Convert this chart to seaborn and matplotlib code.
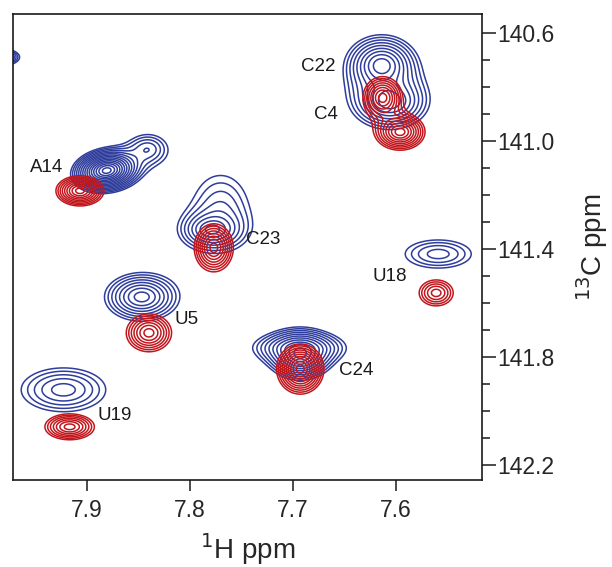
import numpy as np
import matplotlib
matplotlib.use("Agg")
import matplotlib.pyplot as plt
import seaborn as sns

# ===================== peak tables =====================
# centre (1H ppm, 13C ppm), half-width of the lowest contour (ppm), number of contour rings
blue_h = [7.985, 7.881, 7.841, 7.614, 7.606, 7.779, 7.770, 7.847, 7.923, 7.559, 7.693, 7.694]
blue_c = [140.69, 141.110, 141.030, 140.719, 140.856, 141.330, 141.240, 141.578, 141.922, 141.419, 141.795, 141.765]
blue_rh = [0.0194, 0.035, 0.017, 0.035, 0.037, 0.027, 0.024, 0.036, 0.041, 0.032, 0.030, 0.040]
blue_rc = [0.033, 0.085, 0.050, 0.111, 0.100, 0.063, 0.110, 0.089, 0.081, 0.052, 0.090, 0.050]
blue_n = [8, 14, 3, 8, 7, 6, 2, 7, 4, 3, 9, 5]
blue_rho = [0, 0.15, 0, 0, 0, 0, 0, 0, 0, 0, 0, 0]

red_h = [7.907, 7.613, 7.596, 7.777, 7.840, 7.917, 7.561, 7.693]
red_c = [141.185, 140.840, 140.967, 141.396, 141.711, 142.059, 141.563, 141.845]
red_rh = [0.0233, 0.019, 0.024, 0.019, 0.022, 0.024, 0.0165, 0.023]
red_rc = [0.056, 0.078, 0.067, 0.089, 0.070, 0.048, 0.048, 0.093]
red_n = [8, 7, 8, 7, 6, 6, 4, 9]
red_rho = [0, 0, 0, 0, 0, 0, 0, 0]

labels = ['A14', 'C22', 'C4', 'C23', 'U5', 'U19', 'U18', 'C24']
label_h = [7.939, 7.676, 7.668, 7.729, 7.803, 7.873, 7.606, 7.639]
label_c = [141.100, 140.726, 140.904, 141.367, 141.663, 142.017, 141.504, 141.852]

x_ticks = [7.9, 7.8, 7.7, 7.6]
y_ticks = [140.6, 141.0, 141.4, 141.8, 142.2]

blue_color = '#2f3d9c'
red_color = '#c2161d'
level_step = 1.25

# ===================== spectra =====================
hh = np.linspace(7.48, 8.01, 1100)
cc = np.linspace(140.45, 142.35, 1000)
H, C = np.meshgrid(hh, cc)


def spectrum(ph, pc, rh, rc, nring, rho):
    z = np.zeros_like(H)
    for x0, y0, wx, wy, n, r in zip(ph, pc, rh, rc, nring, rho):
        log_amp = (n + 0.5) * np.log(level_step)
        d_out = np.sqrt((1 + log_amp) ** 2 - 1)
        u = (H - x0) / (wx / d_out)
        v = (C - y0) / (wy / d_out)
        d2 = (u**2 - 2 * r * u * v + v**2) / (1 - r**2)
        z += np.exp(log_amp - (np.sqrt(1 + d2) - 1))
    return z


z_blue = spectrum(blue_h, blue_c, blue_rh, blue_rc, blue_n, blue_rho)
z_red = spectrum(red_h, red_c, red_rh, red_rc, red_n, red_rho)

levels = level_step ** np.arange(25)

# ===================== plot =====================
sns.set_theme(style='ticks')
plt.rcParams['font.family'] = ['Liberation Sans', 'DejaVu Sans']

fig = plt.figure(figsize=(6.12, 5.67), dpi=100)
ax = fig.add_axes([13 / 612, 87 / 567, 469 / 612, 466 / 567])

ax.contour(H, C, z_blue, levels=levels, colors=blue_color, linewidths=1.1)
ax.contour(H, C, z_red, levels=levels, colors=red_color, linewidths=1.1)

for txt, x, y in zip(labels, label_h, label_c):
    ax.text(x, y, txt, fontsize=13.5, ha='center', va='center', color='#1a1a1a')

ax.set_xlim(7.972, 7.5165)
ax.set_ylim(142.256, 140.53)

ax.set_xticks(x_ticks)
ax.set_xticklabels([f'{t:.1f}' for t in x_ticks])
ax.set_yticks(y_ticks)
ax.set_yticklabels([f'{t:.1f}' for t in y_ticks])
ax.set_yticks(np.arange(140.6, 142.25, 0.1), minor=True)

ax.yaxis.tick_right()
ax.yaxis.set_label_position('right')
ax.tick_params(axis='x', which='major', length=8, width=1.1, labelsize=16.5, pad=6, color='#1a1a1a')
ax.tick_params(axis='y', which='major', length=10, width=1.1, labelsize=16.5, pad=1, color='#1a1a1a')
ax.tick_params(axis='y', which='minor', length=5.5, width=1.1, color='#1a1a1a')

for sp in ax.spines.values():
    sp.set_linewidth(1.2)
    sp.set_color('#1a1a1a')

ax.set_xlabel('$^{1}$H ppm', fontsize=20, labelpad=6)
ax.set_ylabel('$^{13}$C ppm', fontsize=20, labelpad=14)

fig.savefig('out.png', dpi=100)
